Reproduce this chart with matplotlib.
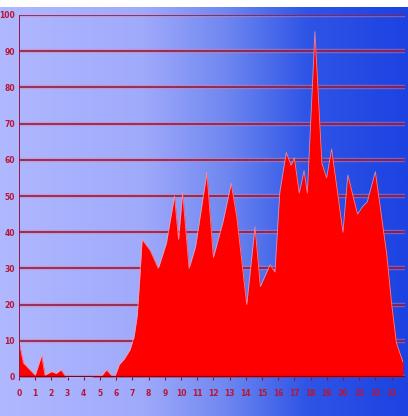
import matplotlib
matplotlib.use("Agg")
import matplotlib.pyplot as plt
import numpy as np
from matplotlib.colors import LinearSegmentedColormap

# hour of day vs activity
HOURS = [0.0, 0.27, 0.68, 1.0, 1.4, 1.6, 2.0, 2.3, 2.6, 2.9, 4.5, 4.8, 5.1, 5.4,
         5.7, 5.9, 6.2, 6.5, 6.85, 7.1, 7.3, 7.45, 7.6, 8.1, 8.6, 9.1, 9.6, 9.85,
         10.1, 10.5, 10.9, 11.6, 12.0, 12.6, 13.1, 13.45, 14.06, 14.57, 14.9,
         15.5, 15.8, 16.1, 16.5, 16.8, 17.0, 17.3, 17.6, 17.8, 18.27, 18.7,
         18.99, 19.3, 20.0, 20.3, 20.9, 21.2, 21.5, 22.0, 22.7, 23.0, 23.3, 23.7]
VALUES = [9.8, 3.9, 2.0, 0.5, 6.0, 0.5, 1.5, 1.0, 2.0, 0.0, 0.0, 0.5, 0.3, 2.0,
          0.5, 0.0, 3.5, 5.0, 7.5, 11.0, 17.0, 27.0, 38.0, 35.0, 30.0, 37.0, 50.0,
          38.0, 51.0, 30.0, 36.0, 56.5, 33.0, 43.0, 53.5, 44.0, 20.0, 41.5, 25.0,
          31.0, 29.0, 51.0, 62.0, 58.5, 60.5, 50.8, 57.0, 50.8, 95.4, 59.0, 55.0,
          63.0, 40.0, 55.8, 45.0, 47.0, 48.4, 56.7, 34.0, 20.4, 9.4, 4.2]
X_TICKS = list(range(24))
Y_TICKS = list(range(0, 101, 10))

W, H = 408, 416
fig = plt.figure(figsize=(W / 100, H / 100), dpi=100)

# background gradient (light lavender -> deep blue)
bg = fig.add_axes([0, 0, 1, 1], zorder=0)
bg.set_axis_off()
cmap = LinearSegmentedColormap.from_list(
    "bgblue", [(0.0, "#b0b8ff"), (0.35, "#a0aafb"), (0.55, "#7088f0"),
               (0.75, "#2f55e6"), (1.0, "#1c42e2")])
grad = np.tile(np.linspace(0, 1, 256), (2, 1))
bg.imshow(grad, aspect="auto", cmap=cmap, extent=[0, 1, 0, 1 - 7 / H])
bg.set_xlim(0, 1)
bg.set_ylim(0, 1)

ax = fig.add_axes([19 / W, 1 - 377 / H, (405 - 19) / W, (377 - 15) / H], zorder=1)
ax.patch.set_alpha(0)

# grid lines with a soft pink glow
for v in Y_TICKS:
    ax.axhline(v, color="#e080a0", lw=3.2, alpha=0.45, zorder=1)
    ax.axhline(v, color="#8a1238", lw=1.1, zorder=2)

ax.fill_between(HOURS, VALUES, 0, color="#ff0000", lw=0, zorder=3)
ax.plot(HOURS, VALUES, color="#ff9aa8", lw=0.6, alpha=0.8, zorder=4)

ax.axvline(0, color="#8a1238", lw=1.3, zorder=5)
ax.axhline(0, color="#6a0a28", lw=1.6, zorder=5)

ax.set_xlim(0, 23.83)
ax.set_ylim(0, 100)
for sp in ax.spines.values():
    sp.set_visible(False)

ax.set_xticks(X_TICKS)
ax.set_yticks(Y_TICKS)
ax.tick_params(axis="both", length=2, color="#8a1238", width=0.8,
               labelsize=5.5, labelcolor="#b81636", pad=7)
ax.tick_params(axis="y", length=0, pad=3)
for lab in ax.get_xticklabels() + ax.get_yticklabels():
    lab.set_fontweight("bold")

fig.savefig("out.png", dpi=100)
